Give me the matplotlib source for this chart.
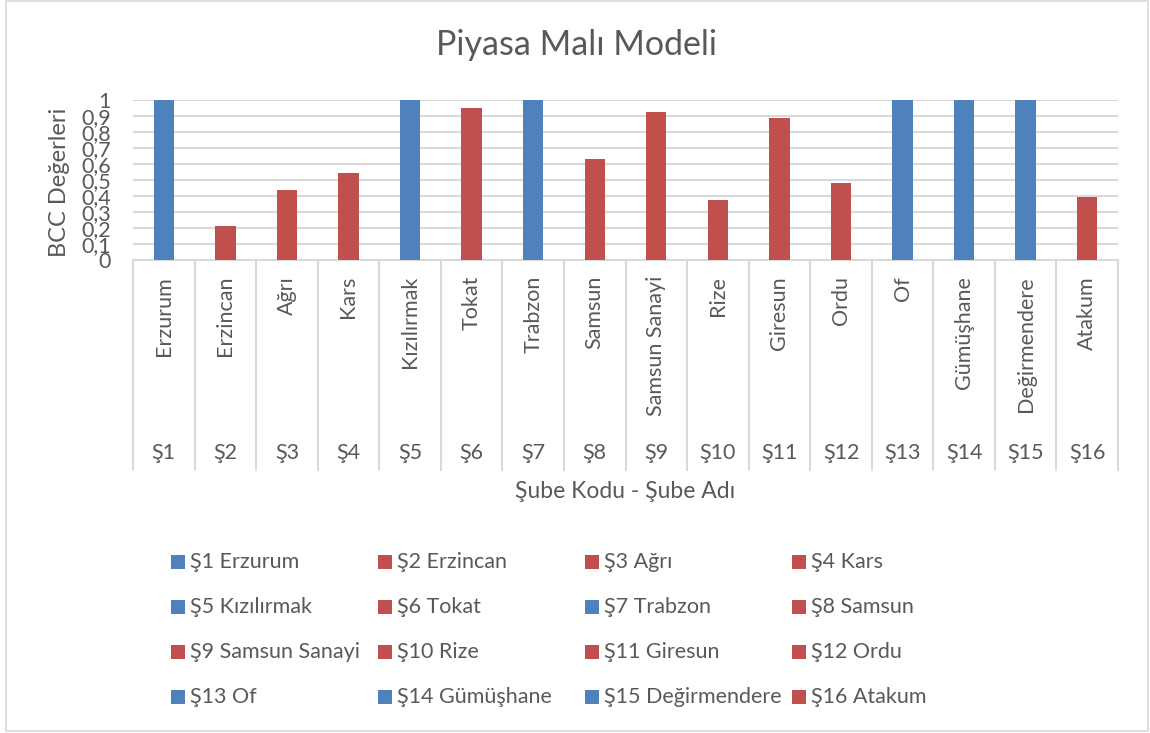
import matplotlib
matplotlib.use("Agg")
import matplotlib.pyplot as plt
from matplotlib.patches import Rectangle
from matplotlib.transforms import blended_transform_factory
import numpy as np

plt.rcParams['font.family'] = ['Lato', 'DejaVu Sans']

codes = ["Ş1", "Ş2", "Ş3", "Ş4", "Ş5", "Ş6", "Ş7", "Ş8",
         "Ş9", "Ş10", "Ş11", "Ş12", "Ş13", "Ş14", "Ş15", "Ş16"]
names = ["Erzurum", "Erzincan", "Ağrı", "Kars", "Kızılırmak", "Tokat", "Trabzon", "Samsun",
         "Samsun Sanayi", "Rize", "Giresun", "Ordu", "Of", "Gümüşhane", "Değirmendere", "Atakum"]
values = [1.0, 0.21, 0.435, 0.545, 1.0, 0.95, 1.0, 0.63,
          0.925, 0.375, 0.89, 0.48, 1.0, 1.0, 1.0, 0.395]
yticks = [0, 0.1, 0.2, 0.3, 0.4, 0.5, 0.6, 0.7, 0.8, 0.9, 1.0]
ytick_labels = ["0", "0,1", "0,2", "0,3", "0,4", "0,5", "0,6", "0,7", "0,8", "0,9", "1"]

BLUE = "#4F81BD"
RED = "#C0504D"
TXT = "#595959"
GRID = "#D9D9D9"
colors = [BLUE if v >= 1.0 else RED for v in values]

FS = 15.5

W, H = 1150, 733
fig = plt.figure(figsize=(W / 100, H / 100), dpi=100)

# chart border
fig.patches.append(Rectangle((6 / W, 1 - 731 / H), 1142 / W, 730 / H, transform=fig.transFigure,
                             fill=False, edgecolor=GRID, lw=1.2))

ax = fig.add_axes([133 / W, 1 - 260 / H, (1118 - 133) / W, 160 / H])
x = np.arange(len(values))
ax.bar(x, values, width=0.33, color=colors, zorder=3)
ax.set_xlim(-0.5, len(values) - 0.5)
ax.set_ylim(0, 1)
ax.set_yticks(yticks)
ax.set_yticklabels(ytick_labels, fontsize=FS, color=TXT)
ax.tick_params(axis='y', length=0, pad=16)
ax.set_xticks([])
for s in ['top', 'right', 'left']:
    ax.spines[s].set_visible(False)
ax.spines['bottom'].set_color(GRID)
ax.spines['bottom'].set_linewidth(1.5)
ax.grid(axis='y', color=GRID, lw=1.5, zorder=0)
ax.set_axisbelow(True)

# multi-level category axis
tr = blended_transform_factory(ax.transData, ax.transAxes)
for b in np.arange(-0.5, len(values), 1.0):
    ax.plot([b, b], [0, -1.3125], transform=tr, color=GRID, lw=1.5, clip_on=False)
for i in range(len(values)):
    ax.text(i, -0.1, names[i], transform=tr, rotation=90, ha='center', va='top',
            fontsize=FS, color=TXT)
    ax.text(i, -1.205, codes[i], transform=tr, ha='center', va='center',
            fontsize=FS, color=TXT)

# axis titles
fig.text(625 / W, 1 - 491 / H, "Şube Kodu - Şube Adı", ha='center', va='center',
         fontsize=16.5, color=TXT)
fig.text(60 / W, 1 - 182 / H, "BCC Değerleri", rotation=90, ha='center', va='center',
         fontsize=17, color=TXT)
fig.text(577 / W, 1 - 45 / H, "Piyasa Malı Modeli", ha='center', va='center',
         fontsize=24.5, color=TXT)

# legend (row-major, 4 columns)
col_x = [171, 378, 585, 792]
row_y = [562, 607, 652, 697]
for i in range(len(values)):
    r, c = i // 4, i % 4
    fig.patches.append(Rectangle((col_x[c] / W, 1 - (row_y[r] + 7) / H), 14 / W, 14 / H,
                                 transform=fig.transFigure, facecolor=colors[i], edgecolor='none'))
    fig.text((col_x[c] + 19) / W, 1 - row_y[r] / H, f"{codes[i]} {names[i]}",
             ha='left', va='center', fontsize=FS, color=TXT)

fig.savefig("out.png", dpi=100)
